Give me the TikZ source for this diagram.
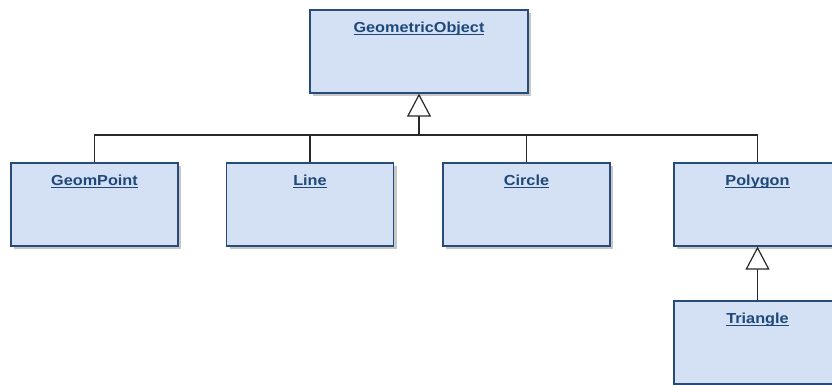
\documentclass[tikz,border=0pt]{standalone}
\usepackage{fontspec}
\setmainfont{Liberation Sans}
\newfontfamily\umlfont[FakeStretch=1.12]{Liberation Sans}
\newcommand\ulname[1]{\sbox0{#1}\usebox0\llap{\rule[-2pt]{\wd0}{0.9pt}}}
\usetikzlibrary{arrows.meta,shadows}
\definecolor{boxfill}{RGB}{212,225,245}
\definecolor{boxline}{RGB}{40,76,122}
\definecolor{boxtext}{RGB}{30,72,122}
\definecolor{wire}{RGB}{40,40,40}
\begin{document}
\begin{tikzpicture}[x=1pt,y=-1pt,
	cls/.style={draw=boxline, fill=boxfill, line width=1.2pt, inner sep=0pt,
		minimum width=167pt, minimum height=83pt,
		drop shadow={shadow xshift=3pt, shadow yshift=-3pt, fill=black!22, opacity=1},
		label={[anchor=north, yshift=-9pt, text=boxtext,
			font=\umlfont\bfseries\fontsize{14.5}{16}\selectfont]north:\ulname{#1}}},
	link/.style={draw=wire, line width=1.2pt},
	gen/.style={link, -{Triangle[open, length=23pt, width=24pt, fill=white]}}]
	\useasboundingbox (0,0) rectangle (832,384);
	\clip (0,0) rectangle (832,384);

	\node[cls=GeometricObject, minimum width=218pt] (geo) at (419,51.5) {};

	\node[cls=GeomPoint] (gp) at (94.5,204.5) {};
	\node[cls=Line] (ln) at (310,204.5) {};
	\node[cls=Circle] (cir) at (526.5,204.5) {};
	\node[cls=Polygon] (poly) at (757.5,204.5) {};
	\node[cls=Triangle] (tri) at (757.5,342.5) {};

	\coordinate (hub) at (419,135);
	\draw[link] (gp.north) |- (hub);
	\draw[link] (ln.north) |- (hub);
	\draw[link] (cir.north) |- (hub);
	\draw[link] (poly.north) |- (hub);
	\draw[gen] (hub) -- (geo.south);

	\draw[gen] (tri.north) -- (poly.south);
\end{tikzpicture}
\end{document}
